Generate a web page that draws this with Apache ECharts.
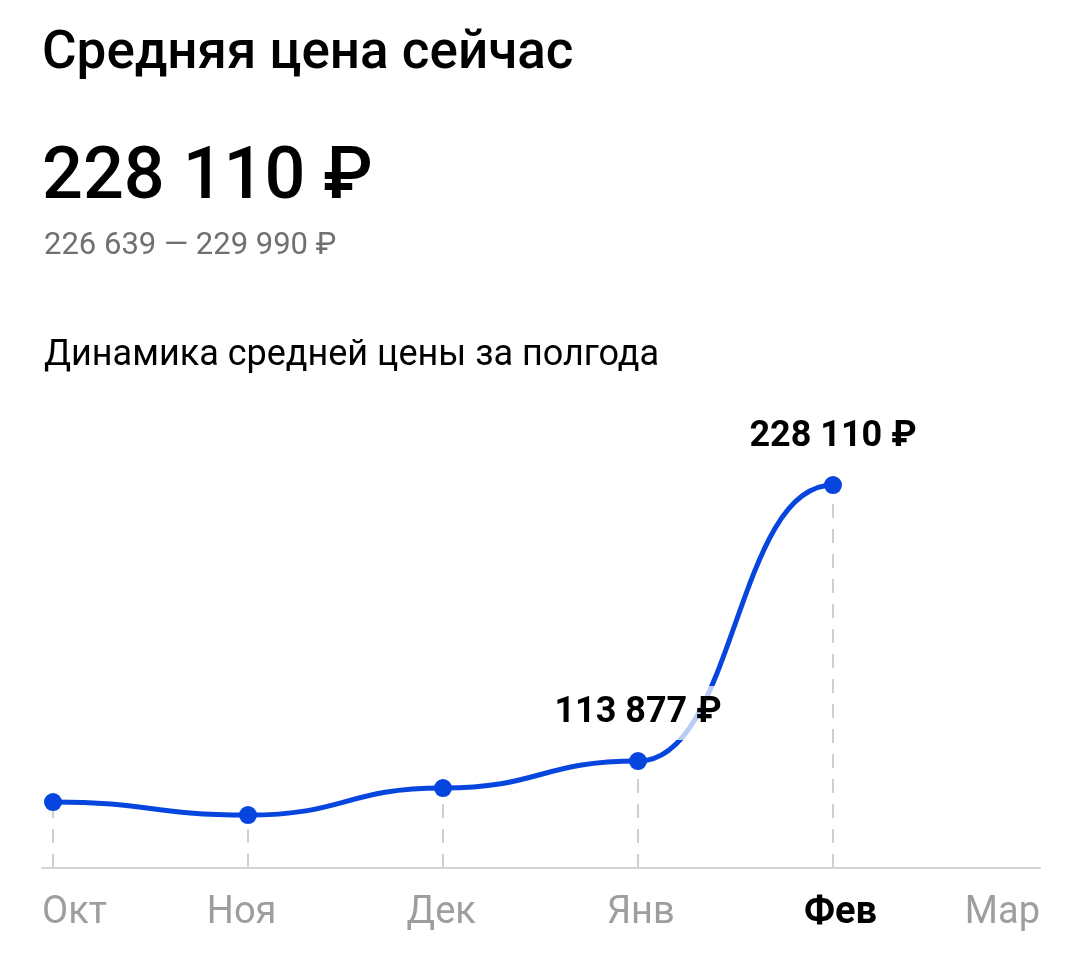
<!DOCTYPE html>
<html>
<head>
<meta charset="utf-8">
<script src="https://cdn.jsdelivr.net/npm/echarts@6/dist/echarts.min.js"></script>
<style>
html,body{margin:0;padding:0;background:#fff;}
#chart{width:1080px;height:957px;}
</style>
</head>
<body>
<div id="chart"></div>
<script>
// ---- data ----
const months = ['Окт', 'Ноя', 'Дек', 'Янв', 'Фев', 'Мар'];
const prices = [96900, 91500, 102700, 113877, 228110];
const labeledMonths = ['Янв', 'Фев'];
const currentMonth = 'Фев';
const headerTitle = 'Средняя цена сейчас';
const currentPrice = 228110;
const priceLow = 226639;
const priceHigh = 229990;
const chartTitle = 'Динамика средней цены за полгода';
const yMin = 69600;
const yMax = 260000;

const fmt = v => String(Math.round(v)).replace(/\B(?=(\d{3})+(?!\d))/g, ' ');
const FONT = 'Roboto, "Noto Sans", sans-serif';
const BLUE = '#0646de';
const SMOOTH = 0.5;

const pointData = prices.map((v, i) => ({
  value: [i, v],
  label: { show: labeledMonths.indexOf(months[i]) >= 0 }
}));
const curveData = prices.map((v, i) => [i, v]);

const dropLines = prices.map((v, i) => [
  { coord: [i, yMin] },
  { coord: [i, v] }
]);

function renderSegment(params, api) {
  const i = params.dataIndex;
  if (i === 0) return { type: 'group', children: [] };
  const p0 = api.coord([i - 1, prices[i - 1]]);
  const p1 = api.coord([api.value(0), api.value(1)]);
  const dx = (p1[0] - p0[0]) * SMOOTH;
  return {
    type: 'bezierCurve',
    shape: {
      x1: p0[0], y1: p0[1],
      cpx1: p0[0] + dx, cpy1: p0[1],
      cpx2: p1[0] - dx, cpy2: p1[1],
      x2: p1[0], y2: p1[1]
    },
    style: { stroke: BLUE, lineWidth: 5, fill: null, lineCap: 'round' },
    silent: true
  };
}

const chart = echarts.init(document.getElementById('chart'), null, { renderer: 'canvas' });
chart.setOption({
  backgroundColor: '#fff',
  animation: false,
  textStyle: { fontFamily: FONT },
  title: [
    { text: headerTitle, left: 37, top: 23, textStyle: { fontFamily: FONT, fontSize: 53, fontWeight: 500, color: '#000' } },
    { text: fmt(currentPrice) + ' ₽', left: 37, top: 139, textStyle: { fontFamily: FONT, fontSize: 72, fontWeight: 500, color: '#000' } },
    { text: fmt(priceLow) + ' — ' + fmt(priceHigh) + ' ₽', left: 39, top: 226, textStyle: { fontFamily: FONT, fontSize: 31, fontWeight: 400, color: '#707070' } },
    { text: chartTitle, left: 39, top: 333, textStyle: { fontFamily: FONT, fontSize: 36, fontWeight: 400, color: '#000' } }
  ],
  grid: [
    { left: 53, right: 52, top: 408, bottom: 89 },
    { left: 42, right: 40, top: 408, bottom: 89 }
  ],
  xAxis: [
    { type: 'category', gridIndex: 0, data: months, boundaryGap: false, show: false },
    {
      type: 'category', gridIndex: 1, data: months, boundaryGap: false,
      axisLine: { show: true, lineStyle: { color: '#d4d4d4', width: 2 } },
      axisTick: { show: false },
      axisLabel: {
        interval: 0, margin: 26, alignMinLabel: 'left', alignMaxLabel: 'right',
        formatter: v => v === currentMonth ? '{b|' + v + '}' : '{a|' + v + '}',
        rich: {
          a: { fontFamily: FONT, fontSize: 38, color: '#9e9e9e' },
          b: { fontFamily: FONT, fontSize: 38, color: '#000', fontWeight: 'bold' }
        }
      }
    }
  ],
  yAxis: [
    { type: 'value', gridIndex: 0, min: yMin, max: yMax, show: false },
    { type: 'value', gridIndex: 1, min: yMin, max: yMax, show: false }
  ],
  series: [
    {
      type: 'custom',
      xAxisIndex: 0, yAxisIndex: 0,
      data: curveData,
      encode: { x: 0, y: 1 },
      renderItem: renderSegment,
      clip: false,
      silent: true,
      z: 2
    },
    {
      type: 'scatter',
      xAxisIndex: 0, yAxisIndex: 0,
      data: pointData,
      symbol: 'circle',
      symbolSize: 18,
      itemStyle: { color: BLUE, opacity: 1 },
      z: 3,
      label: {
        position: 'top', distance: 12,
        formatter: p => fmt(p.value[1]) + ' ₽',
        fontFamily: FONT, fontSize: 36, fontWeight: 'bold', color: '#000',
        backgroundColor: 'rgba(255,255,255,0.72)', padding: [8, 4], lineHeight: 38
      },
      emphasis: { disabled: true },
      markLine: {
        silent: true,
        symbol: 'none',
        z: 1,
        label: { show: false },
        lineStyle: { color: '#cfcfcf', width: 2, type: [14, 11] },
        emphasis: { disabled: true },
        data: dropLines
      }
    }
  ]
});
</script>
</body>
</html>
